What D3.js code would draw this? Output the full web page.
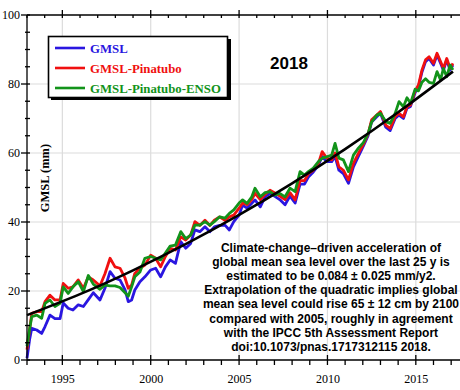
<!DOCTYPE html>
<html><head><meta charset="utf-8">
<script src="https://cdn.jsdelivr.net/npm/d3@7"></script>
<style>body{margin:0;background:#fff}svg{display:block}</style>
</head><body>
<svg id="c" width="460" height="390"></svg>
<script>
const years = [
1993.0,1993.15,1993.27,1993.55,1993.83,1994.02,1994.3,1994.58,
1994.87,1995.05,1995.33,1995.6,1995.9,1996.19,1996.47,1996.75,
1997.13,1997.41,1997.7,1997.98,1998.26,1998.55,1998.73,1998.92,
1999.1,1999.39,1999.67,2000.0,2000.28,2000.56,2000.83,2001.1,
2001.4,2001.7,2001.98,2002.26,2002.5,2002.78,2003.07,2003.35,
2003.6,2003.9,2004.2,2004.45,2004.7,2005.0,2005.2,2005.45,
2005.72,2005.9,2006.2,2006.47,2006.75,2007.0,2007.3,2007.6,
2007.88,2008.17,2008.45,2008.7,2008.92,2009.2,2009.49,2009.7,
2009.96,2010.24,2010.43,2010.65,2010.9,2011.19,2011.47,2011.75,
2012.03,2012.3,2012.5,2012.79,2013.0,2013.3,2013.55,2013.83,
2014.05,2014.3,2014.5,2014.7,2014.96,2015.15,2015.35,2015.55,
2015.75,2016.0,2016.2,2016.4,2016.56,2016.75,2016.94,2017.1];
const gmsl = [
0.5,6,9.2,8.7,7.7,9.7,13,12,
12,16.5,15,14.5,16,15.5,17.5,19.5,
17.4,20.8,25.6,23.7,23.2,20.3,16.9,17.4,
20.3,22.7,24.1,26.1,26.6,24.1,27,29,
28,34.3,32.4,33.8,37.7,37.2,38.6,37.2,
38.6,39,39.1,37.7,40.1,42,44.9,44,
45.4,46.4,44.4,47.3,48.3,47.5,46.5,45,
47.5,45.5,51,51,53,54.5,56.5,59,
57.5,57.5,59,55,54,51.2,56,59,
62,65,69,70.5,71.5,67.5,66.5,70,
71,70,73,73.5,77.5,79.2,83.5,86.5,
87.4,85.5,88.4,86,84,87,84,85.5];
const gmslPinatubo = [
3,9,13.5,14,14,16.9,18.8,17.4,
17.4,22.2,20.8,21.2,23.2,20.8,24.1,23.2,
21.5,25,29.5,27,26.6,23.7,20.8,21.7,
25.1,26.6,27.5,30.4,29.5,27,30,32.4,
31.9,35.7,34.8,36.2,40.1,39,40.5,39,
40.5,41.5,40.5,41.5,42,44,45.5,45,
46.5,48.3,46.5,48,49.2,48.5,47.5,46.5,
48.5,46.4,52,52,54,55,57,60.4,
58.5,58,60,56,55,52.2,57,59.9,
62.5,65.5,69.6,71,72,68.1,67.1,70.5,
71.5,70.5,73.4,73.9,78,79.7,84.1,87,
87.9,86,88.9,86.5,84.5,87.4,84.5,86];
const gmslPinatuboEnso = [
4,9,12.6,13,12.1,16.4,17.4,15.5,
16.4,21.2,19.3,21.2,22.7,19.8,24.5,22,
20.5,21.7,21.5,21.5,21,19.5,18.5,21.2,
24.1,25.5,29.5,30,29.5,29,31,33,
33.3,37.2,35.2,36.2,39.1,39.1,40.1,39.1,
40.1,41.5,41.1,42.5,43.5,45.5,46.4,45.4,
47.3,49.8,47.3,48.5,48.8,47.8,48.3,47.3,
49.8,48.8,54.6,53.6,54.6,55.6,57.5,58.5,
58.9,59.4,62.8,58.5,58,54.6,59.4,61.4,
63,65.7,69,71,71.5,69.1,68.6,71.5,
74.9,73.4,76,74.4,78.5,78,80.5,81.5,
80.5,80.2,83.6,81.2,84.5,82.1,85.5,84.1];
const fitYears = [1993, 1996, 1999, 2002, 2005, 2008, 2011, 2014, 2017.1];
const fitValues = [13.0, 19.1, 26.0, 33.65, 42.05, 51.2, 61.1, 71.8, 83.6];
const xMajorTicks = [1995, 2000, 2005, 2010, 2015];
const xMinorTicks = d3.range(1993, 2018);
const yMajorTicks = [0, 20, 40, 60, 80, 100];
const yMinorTicks = d3.range(0, 101, 5);
const seriesNames = ["GMSL", "GMSL-Pinatubo", "GMSL-Pinatubo-ENSO"];
const seriesColors = ["#2a16e0", "#f01010", "#12931a"];
const title = "2018";
const yLabel = "GMSL (mm)";
const note = [
"Climate-change\u2013driven acceleration of",
"global mean sea level over the last 25 y is",
"estimated to be 0.084 \u00b1 0.025 mm/y2.",
"Extrapolation of the quadratic implies global",
"mean sea level could rise 65 \u00b1 12 cm by 2100",
"compared with 2005, roughly in agreement",
"with the IPCC 5th Assessment Report",
"doi:10.1073/pnas.1717312115 2018."];

const svg = d3.select("#c");
const x = d3.scaleLinear().domain([1993, 2017.5]).range([27, 460]);
const y = d3.scaleLinear().domain([0, 100]).range([360, 15]);
const serif = "'Liberation Serif','Times New Roman',serif";
const sans = "'Liberation Sans',Arial,Helvetica,sans-serif";

// grid
svg.append("g").selectAll("line").data(xMajorTicks).join("line")
  .attr("x1", d => x(d)).attr("x2", d => x(d)).attr("y1", y(100)).attr("y2", y(0))
  .attr("stroke", "#dcdcdc").attr("stroke-width", 1.2);
svg.append("g").selectAll("line").data(yMajorTicks.filter(d => d > 0 && d < 100)).join("line")
  .attr("x1", x(1993)).attr("x2", 460).attr("y1", d => y(d)).attr("y2", d => y(d))
  .attr("stroke", "#dcdcdc").attr("stroke-width", 1.2);

// series
const allSeries = [gmsl, gmslPinatubo, gmslPinatuboEnso];
const line = d3.line().x(d => x(d[0])).y(d => y(d[1]));
allSeries.forEach((vals, i) => {
  svg.append("path").datum(years.map((t, k) => [t, vals[k]]))
    .attr("d", line).attr("fill", "none").attr("stroke", seriesColors[i])
    .attr("stroke-width", 2.8).attr("stroke-linejoin", "round");
});
// fit
svg.append("path").datum(fitYears.map((t, k) => [t, fitValues[k]]))
  .attr("d", d3.line().x(d => x(d[0])).y(d => y(d[1])).curve(d3.curveNatural))
  .attr("fill", "none").attr("stroke", "#000").attr("stroke-width", 2.6);

// axes lines
const ax = svg.append("g").attr("stroke", "#000").attr("stroke-width", 1.3);
ax.append("line").attr("x1", x(1993)).attr("x2", 460).attr("y1", y(0)).attr("y2", y(0));
ax.append("line").attr("x1", x(1993)).attr("x2", 460).attr("y1", y(100)).attr("y2", y(100));
ax.append("line").attr("x1", x(1993)).attr("x2", x(1993)).attr("y1", y(0)).attr("y2", y(100));
// bottom ticks
ax.selectAll(".bm").data(xMinorTicks).join("line")
  .attr("x1", d => x(d)).attr("x2", d => x(d))
  .attr("y1", d => xMajorTicks.includes(d) ? y(0) - 5 : y(0)).attr("y2", y(0) + 5);
// top ticks
ax.selectAll(".tm").data(xMinorTicks).join("line")
  .attr("x1", d => x(d)).attr("x2", d => x(d))
  .attr("y1", d => xMajorTicks.includes(d) ? y(100) - 5 : y(100)).attr("y2", y(100) + 3);
// left ticks
ax.selectAll(".lm").data(yMinorTicks).join("line")
  .attr("y1", d => y(d)).attr("y2", d => y(d))
  .attr("x1", d => yMajorTicks.includes(d) ? x(1993) - 6 : x(1993) - 2).attr("x2", x(1993) + 3);

// axis labels via d3 axes
const xAxis = svg.append("g").attr("transform", `translate(0,${y(0)})`)
  .call(d3.axisBottom(x).tickValues(xMajorTicks).tickFormat(d3.format("d")).tickSize(0).tickPadding(14));
xAxis.select(".domain").remove();
xAxis.selectAll("text").attr("font-family", serif).attr("font-size", 12).attr("fill", "#000");
const yAxis = svg.append("g").attr("transform", `translate(${x(1993)},0)`)
  .call(d3.axisLeft(y).tickValues(yMajorTicks).tickFormat(d3.format("d")).tickSize(0).tickPadding(7));
yAxis.select(".domain").remove();
yAxis.selectAll("text").attr("font-family", serif).attr("font-size", 12).attr("fill", "#000");

svg.append("text").attr("transform", "translate(49,178) rotate(-90)")
  .attr("text-anchor", "middle").attr("font-family", serif).attr("font-weight", "bold")
  .attr("font-size", 12.5).text(yLabel);

// legend
const lg = svg.append("g");
lg.append("rect").attr("x", 51).attr("y", 39).attr("width", 180).attr("height", 61).attr("fill", "#000");
lg.append("rect").attr("x", 48.5).attr("y", 36.5).attr("width", 179).attr("height", 61)
  .attr("fill", "#fff").attr("stroke", "#000").attr("stroke-width", 1.6);
seriesNames.forEach((n, i) => {
  const yy = 48 + i * 20;
  lg.append("line").attr("x1", 55).attr("x2", 85).attr("y1", yy).attr("y2", yy)
    .attr("stroke", seriesColors[i]).attr("stroke-width", 2.6);
  lg.append("text").attr("x", 90).attr("y", yy + 4.5).attr("font-family", serif)
    .attr("font-weight", "bold").attr("font-size", 12.8).attr("fill", seriesColors[i]).text(n);
});

svg.append("text").attr("x", 289).attr("y", 69).attr("text-anchor", "middle")
  .attr("font-family", sans).attr("font-weight", "bold").attr("font-size", 17).text(title);

svg.append("g").selectAll("text").data(note).join("text")
  .attr("x", 331).attr("y", (d, i) => 251.5 + i * 14.2).attr("text-anchor", "middle")
  .attr("font-family", sans).attr("font-weight", "bold").attr("font-size", 12).text(d => d);
</script>
</body></html>
